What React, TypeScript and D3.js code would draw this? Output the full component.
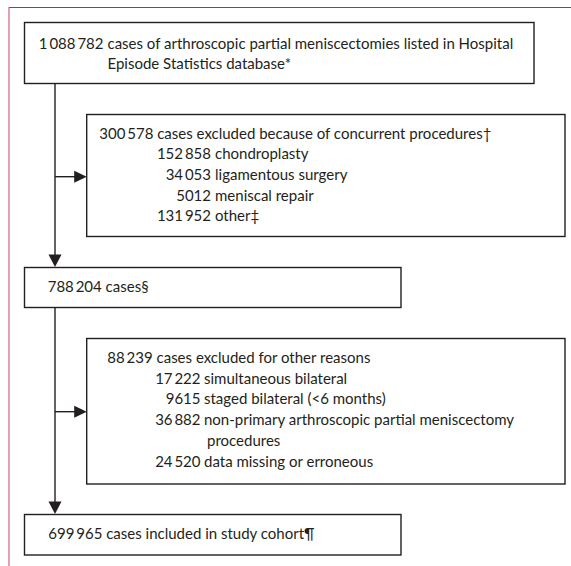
import React, { useEffect, useRef } from 'react';
import * as d3 from 'd3';

// counts shown in the main (left) boxes, top to bottom
const mainCounts = ['1\u2009088\u2009782', '788\u2009204', '699\u2009965'];
const mainLabels = [
  ['cases of arthroscopic partial meniscectomies listed in Hospital', 'Episode Statistics database*'],
  ['cases§'],
  ['cases included in study cohort¶'],
];

// first exclusion box
const concurrentTotal = '300\u2009578';
const concurrentTitle = 'cases excluded because of concurrent procedures†';
const concurrentCounts = ['152\u2009858', '34\u2009053', '5012', '131\u2009952'];
const concurrentLabels = ['chondroplasty', 'ligamentous surgery', 'meniscal repair', 'other‡'];

// second exclusion box
const otherTotal = '88\u2009239';
const otherTitle = 'cases excluded for other reasons';
const otherCounts = ['17\u2009222', '9615', '36\u2009882', '24\u2009520'];
const otherLabels = [
  ['simultaneous bilateral'],
  ['staged bilateral (<6 months)'],
  ['non-primary arthroscopic partial meniscectomy', 'procedures'],
  ['data missing or erroneous'],
];

const W = 571;
const H = 566;
const FONT = 'Lato, "Open Sans", sans-serif';
const INK = '#231f20';

export default function App() {
  const ref = useRef<SVGSVGElement | null>(null);

  useEffect(() => {
    const svg = d3.select(ref.current);
    svg.selectAll('*').remove();

    // baseline of line n inside a box
    const lineY = (top: number) => d3.scaleLinear().domain([0, 1]).range([top, top + 20.7]);

    // page frame
    svg.append('line').attr('x1', 9).attr('x2', W).attr('y1', 7.5).attr('y2', 7.5)
      .attr('stroke', '#c0284c').attr('stroke-width', 1);
    svg.append('line').attr('x1', 9).attr('x2', 9).attr('y1', 7).attr('y2', H)
      .attr('stroke', '#d0627e').attr('stroke-width', 1.2);

    const box = (x0: number, y0: number, x1: number, y1: number) =>
      svg.append('rect').attr('x', x0).attr('y', y0).attr('width', x1 - x0).attr('height', y1 - y0)
        .attr('fill', 'none').attr('stroke', INK).attr('stroke-width', 1.4);

    const text = (x: number, y: number, s: string, anchor = 'start') =>
      svg.append('text').attr('x', x).attr('y', y).attr('text-anchor', anchor)
        .attr('font-family', FONT).attr('font-size', 15).attr('fill', INK).text(s);

    // connectors
    const spineX = 55;
    svg.append('line').attr('x1', spineX).attr('x2', spineX).attr('y1', 83).attr('y2', 258)
      .attr('stroke', INK).attr('stroke-width', 1.4);
    svg.append('line').attr('x1', spineX).attr('x2', spineX).attr('y1', 308).attr('y2', 505)
      .attr('stroke', INK).attr('stroke-width', 1.4);

    const downArrow = (tipY: number) =>
      svg.append('path').attr('d', `M${spineX - 6.5},${tipY - 12.5}L${spineX + 6.5},${tipY - 12.5}L${spineX},${tipY}Z`)
        .attr('fill', INK);
    const rightArrow = (y: number, tipX: number) => {
      svg.append('line').attr('x1', spineX).attr('x2', tipX - 10).attr('y1', y).attr('y2', y)
        .attr('stroke', INK).attr('stroke-width', 1.4);
      svg.append('path').attr('d', `M${tipX - 12.5},${y - 6}L${tipX - 12.5},${y + 6}L${tipX},${y}Z`)
        .attr('fill', INK);
    };
    downArrow(267);
    downArrow(514);
    rightArrow(176.7, 86.7);
    rightArrow(411.7, 86.7);

    // box 1
    box(24.5, 22.5, 534, 83.5);
    const y1 = lineY(48.5);
    text(103.5, y1(0), mainCounts[0], 'end');
    mainLabels[0].forEach((s, i) => text(107.5, y1(i), s));

    // box 2: concurrent procedures
    box(86.7, 114.5, 565, 236.5);
    const y2 = lineY(138.5);
    text(99.3, y2(0), `${concurrentTotal} ${concurrentTitle}`);
    concurrentCounts.forEach((c, i) => {
      text(211, y2(i + 1), c, 'end');
      text(215, y2(i + 1), concurrentLabels[i]);
    });

    // box 3
    box(24.5, 267.5, 401, 307.5);
    text(47.7, 291.8, `${mainCounts[1]} ${mainLabels[1][0]}`);

    // box 4: other reasons
    box(86.7, 338.5, 565, 484);
    const y4 = lineY(363);
    text(107.3, y4(0), `${otherTotal} ${otherTitle}`);
    let row = 1;
    otherCounts.forEach((c, i) => {
      text(200.5, y4(row), c, 'end');
      otherLabels[i].forEach((s, j) => {
        text(j === 0 ? 204 : 207, y4(row), s);
        row += 1;
      });
    });

    // box 5
    box(24.5, 514.5, 401, 555);
    text(48.3, 538.5, `${mainCounts[2]} ${mainLabels[2][0]}`);
  }, []);

  return (
    <svg ref={ref} width={W} height={H}
      style={{ position: 'absolute', left: 0, top: 0, background: '#ffffff' }} />
  );
}
